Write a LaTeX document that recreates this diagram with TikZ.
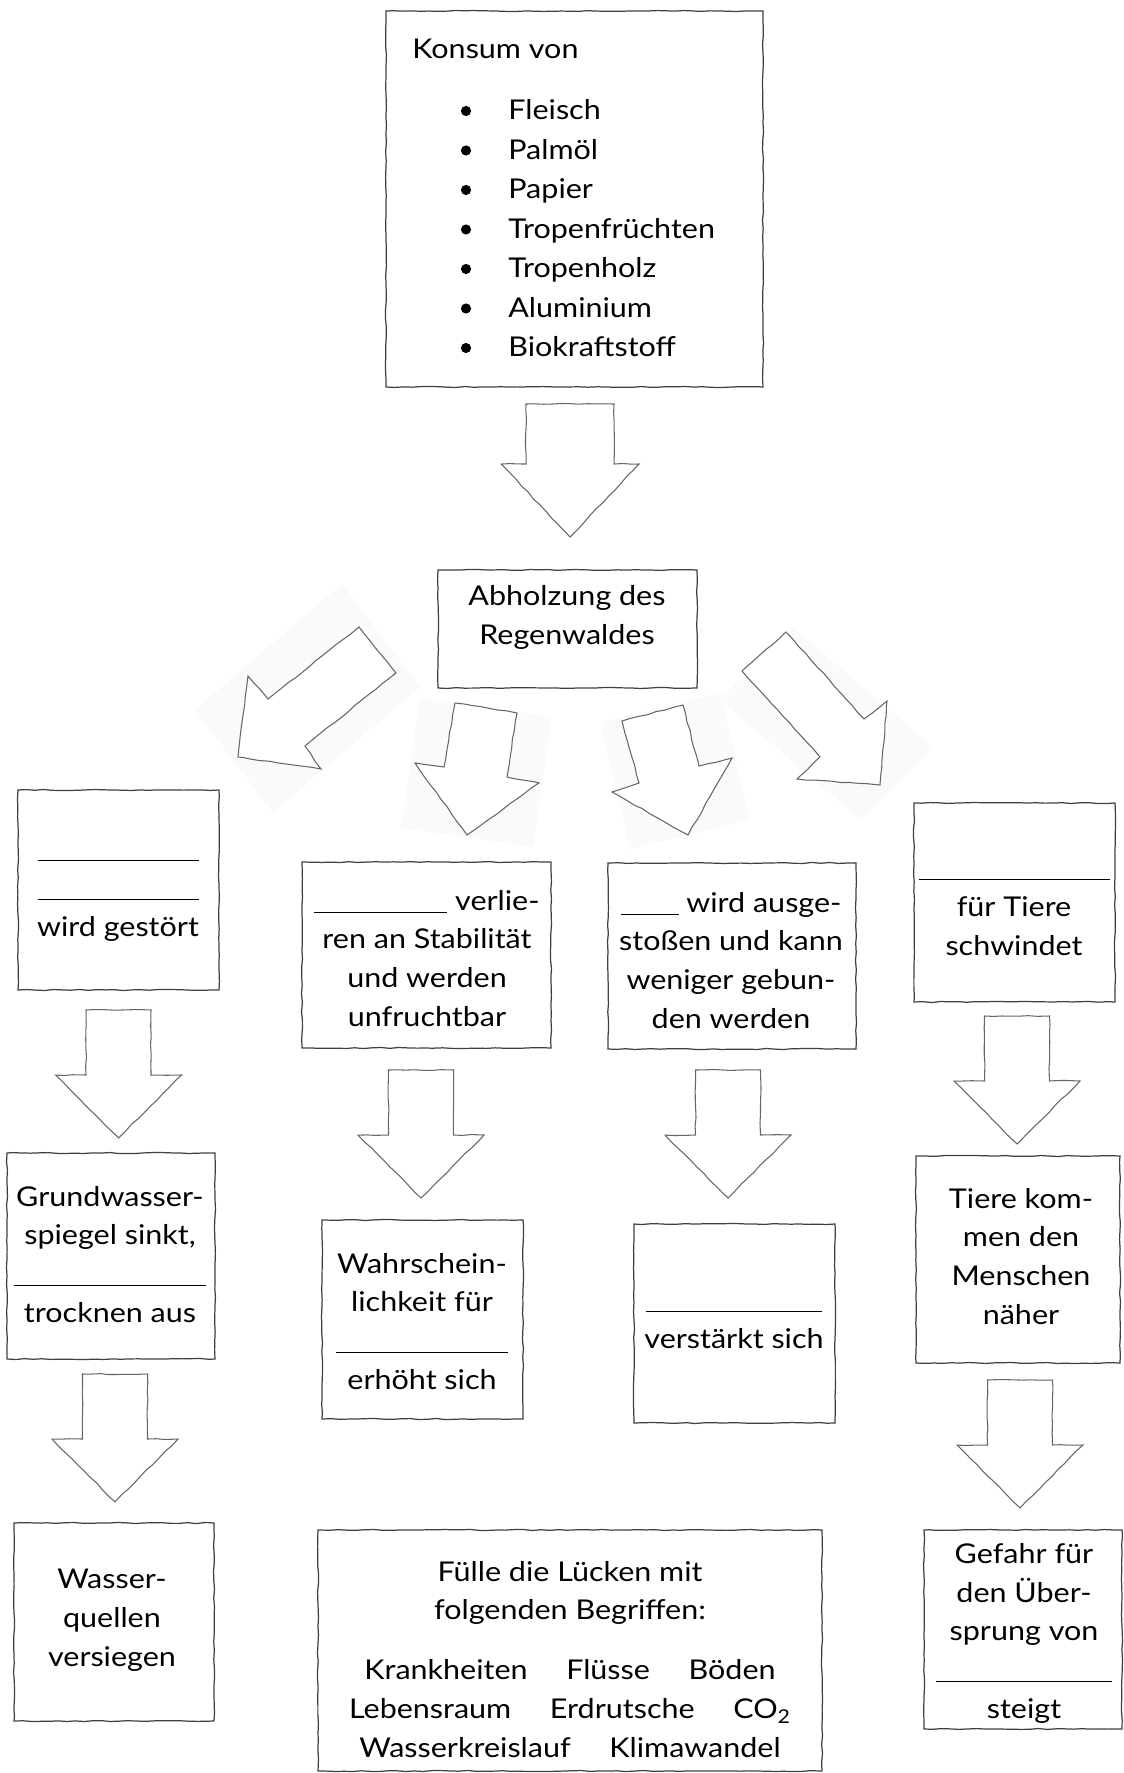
\documentclass[tikz,border=0pt]{standalone}
\usepackage{fontspec}
\setmainfont{Lato}[FakeStretch=1.12]
\usetikzlibrary{decorations.pathmorphing}

\newdimen\pxu
\pxu=0.02cm
\newcommand{\gap}[1]{\rule[-1.5pt]{#1\pxu}{0.6pt}}

\tikzset{
    sketch/.style={decorate, decoration={random steps, segment length=5pt, amplitude=0.3pt}},
    box/.style={draw=black!75, line width=0.7pt, fill=white, sketch},
    txt/.style={align=center, anchor=base, inner sep=0pt, font=\fontsize{15.5}{22}\selectfont},
    blockarrow/.style={draw=black!60, line width=0.6pt, fill=white, sketch},
    shade/.style={fill=black!2},
}

% box from corner to corner
\newcommand{\panel}[5]{%
    \node[box, minimum width=#4\pxu-#2\pxu, minimum height=#5\pxu-#3\pxu]
        (#1) at ({(#2+#4)/2},{(#3+#5)/2}) {};}
% straight arrow pointing down
\newcommand{\dnarrow}[2]{%
    \draw[blockarrow] ({#1-32.5},#2) -- ({#1+32.5},#2) -- ({#1+32.5},{#2+65})
        -- ({#1+63},{#2+65}) -- (#1,{#2+128}) -- ({#1-63},{#2+65})
        -- ({#1-32.5},{#2+65}) -- cycle;}

\begin{document}
\begin{tikzpicture}[x=0.02cm, y=-0.02cm]
    \pgfmathsetseed{7}
    \useasboundingbox (0,0) rectangle (1123,1773);

    % faint squares behind the slanted arrows
    \fill[shade] (195,710) -- (273,813) -- (420,687) -- (342,584) -- cycle;
    \fill[shade] (420,698) -- (552,717) -- (533,847) -- (401,828) -- cycle;
    \fill[shade] (600,722) -- (720,693) -- (750,820) -- (630,849) -- cycle;
    \fill[shade] (720,700) -- (792,627) -- (933,747) -- (861,820) -- cycle;

    % arrows
    \draw[blockarrow] (526,404) -- (614,404) -- (614,464) -- (639,464) -- (570,537)
        -- (501,464) -- (526,464) -- cycle;
    \draw[blockarrow] (359,627) -- (396,673) -- (305,746) -- (321,769) -- (238,757)
        -- (248,676) -- (268,699) -- cycle;
    \draw[blockarrow] (455,703) -- (517,713) -- (507,777) -- (539,783) -- (467,835)
        -- (415,763) -- (444,767) -- cycle;
    \draw[blockarrow] (622,721) -- (683,705) -- (699,766) -- (732,758) -- (688,835)
        -- (612,792) -- (639,783) -- cycle;
    \draw[blockarrow] (786,632) -- (742,671) -- (820,757) -- (797,779) -- (880,785)
        -- (887,701) -- (864,719) -- cycle;
    \dnarrow{118.5}{1010}
    \dnarrow{421}{1070}
    \dnarrow{728}{1070}
    \dnarrow{1017}{1016}
    \dnarrow{115}{1374}
    \dnarrow{1020}{1380}

    % boxes
    \panel{konsum}{386}{11}{763}{387}
    \panel{abholz}{438}{570}{697}{688}
    \panel{wasser}{18}{790}{219}{990}
    \panel{boden}{302}{862}{551}{1048}
    \panel{co}{608}{863}{856}{1049}
    \panel{raum}{914}{803}{1115}{1002}
    \panel{grund}{7}{1153}{215}{1359}
    \panel{wahr}{322}{1220}{523}{1419}
    \panel{klima}{634}{1224}{835}{1423}
    \panel{tiere}{916}{1156}{1120}{1363}
    \panel{quellen}{14}{1523}{214}{1721}
    \panel{fuelle}{318}{1530}{822}{1771}
    \panel{gefahr}{924}{1530}{1122}{1729}

    % texts (base = last line)
    \node[txt, anchor=base west] (konsumtitle) at (412,59) {Konsum von};
    \foreach \item [count=\i] in {Fleisch, Palmöl, Papier, Tropenfrüchten,
                                  Tropenholz, Aluminium, Biokraftstoff} {
        \fill ({466},{111+39.5*(\i-1)}) circle (2.9pt);
        \node[txt, anchor=base west] (item\i) at (508,{120+39.5*(\i-1)}) {\item};
    }
    \node[txt] (abholztext) at (567,644) {Abholzung des\\Regenwaldes};
    \node[txt] (wassertext) at (118,936) {\gap{161}\\\gap{161}\\wird gestört};
    \node[txt] (bodentext) at (427,1026) {\gap{133} verlie-\\ren an Stabilität\\und werden\\unfruchtbar};
    \node[txt] (cotext) at (731,1028) {\gap{58} wird ausge-\\stoßen und kann\\weniger gebun-\\den werden};
    \node[txt] (raumtext) at (1014,955) {\gap{191}\\für Tiere\\schwindet};
    \node[txt] (grundtext) at (110,1322) {Grundwasser-\\spiegel sinkt,\\\gap{191}\\trocknen aus};
    \node[txt] (wahrtext) at (422,1389) {Wahrschein-\\lichkeit für\\\gap{172}\\erhöht sich};
    \node[txt] (klimatext) at (734,1348) {\gap{176}\\verstärkt sich};
    \node[txt] (tieretext) at (1021,1324) {Tiere kom-\\men den\\Menschen\\näher};
    \node[txt] (quellentext) at (112,1666) {Wasser-\\quellen\\versiegen};
    \node[txt] (fuelletext) at (570,1757) {Fülle die Lücken mit\\folgenden Begriffen:\\[12pt]
        Krankheiten\hspace{22pt}Flüsse\hspace{22pt}Böden\\
        Lebensraum\hspace{22pt}Erdrutsche\hspace{22pt}CO\textsubscript{2}\\
        Wasserkreislauf\hspace{22pt}Klimawandel};
    \node[txt] (gefahrtext) at (1024,1718) {Gefahr für\\den Über-\\sprung von\\\gap{176}\\steigt};
\end{tikzpicture}
\end{document}
